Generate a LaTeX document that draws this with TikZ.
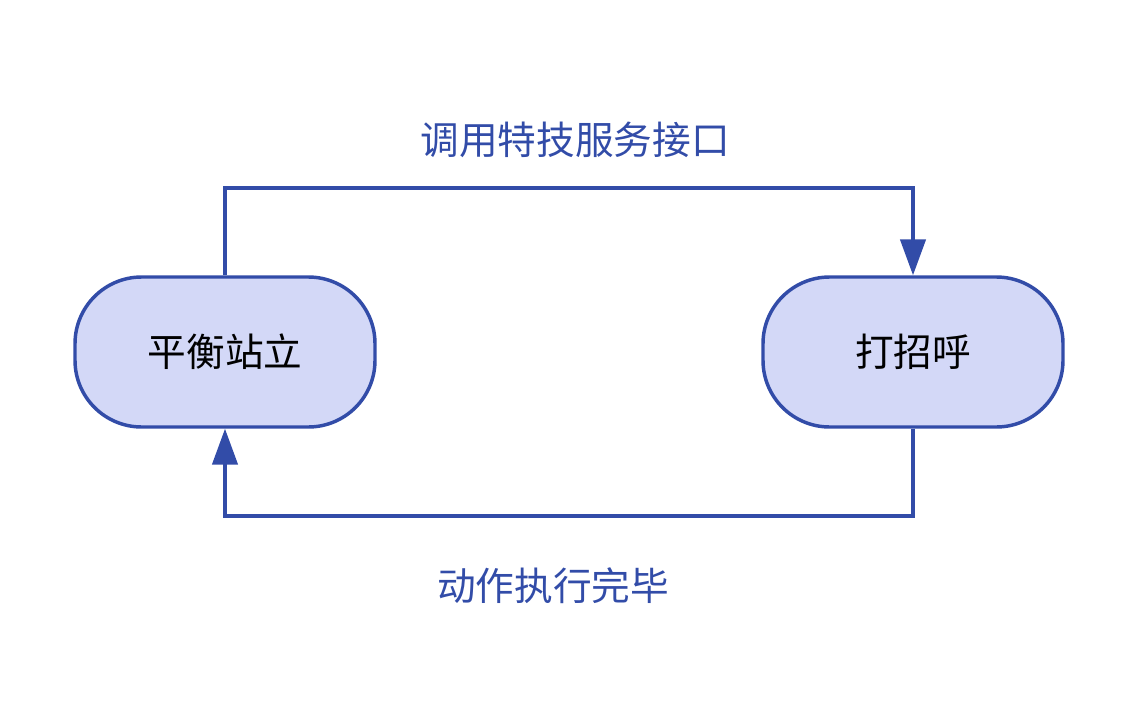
\documentclass[tikz,border=0pt]{standalone}
\usepackage{fontspec}
\setmainfont{Noto Sans CJK SC}
\usetikzlibrary{arrows.meta}
\definecolor{edgeblue}{HTML}{324CA8}
\definecolor{fillblue}{HTML}{D3D8F7}
\tikzset{
  state/.style={draw=edgeblue, fill=fillblue, line width=2.6pt, rounded corners=50pt,
    minimum width=225pt, minimum height=112.5pt, font=\fontsize{29}{34}\selectfont},
  flow/.style={draw=edgeblue, line width=2.6pt, -{Triangle[length=27pt,width=19pt]}},
  tag/.style={text=edgeblue, font=\fontsize{29}{34}\selectfont}
}
\begin{document}
\begin{tikzpicture}[x=0.75pt, y=-0.75pt]
            \useasboundingbox (0,0) rectangle (1138,717);

            % States
            \node[state] (stand) at (225,352) {平衡站立};
            \node[state] (wave) at (913,352) {打招呼};

            % Connectors
            \draw[flow] (stand.north) |- (575,188) -| (wave.north);
            \draw[flow] (wave.south) |- (575,516) -| (stand.south);

            % Labels
            \node[tag] (call) at (575,140) {调用特技服务接口};
            \node[tag] (done) at (553,586) {动作执行完毕};
\end{tikzpicture}
\end{document}
